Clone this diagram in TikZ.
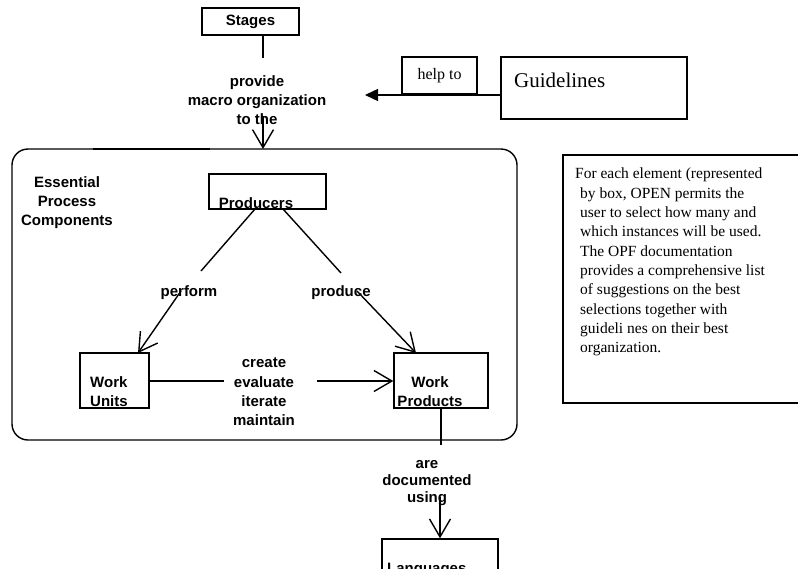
\documentclass[tikz,border=0pt]{standalone}
\usepackage{fontspec}
\setmainfont{Liberation Serif}
\setsansfont{Liberation Sans}
\usepackage{tikz}
\usetikzlibrary{arrows.meta}
\usepackage{tkz-euclide}

\tikzset{
    box/.style = {draw, line width=1.4pt, inner sep=0pt},
    lbl/.style = {font=\sffamily\bfseries\fontsize{15}{19.3}\selectfont, align=center, inner sep=0pt},
    serif/.style = {font=\rmfamily\fontsize{15.5}{19.3}\selectfont, align=left, inner sep=0pt},
    openarrow/.style = {line width=1.4pt, -{Straight Barb[length=18pt, width=21pt, line width=1.4pt]}},
    fillarrow/.style = {line width=1.4pt, -{Triangle[length=13pt, width=12pt]}},
}

\begin{document}
\begin{tikzpicture}[x=1pt, y=-1pt]
            \useasboundingbox (0,0) rectangle (798,568);
            \tkzDefPoints{263/58/S2, 263/116/M1, 263/149/M2, 501/95/G1, 365/95/G2,
                          255/209/P1, 201/271/P2, 283/209/Q1, 341/273/Q2,
                          181/291/P3, 138/353/P4, 357/291/Q3, 416/353/Q4,
                          224/381/C1, 317/381/C2, 441/445/D1, 440/497/D2}
            % boxes
            \node[box, minimum width=97, minimum height=27, lbl] (stages) at (250.5,21.5) {Stages};
            \node[box, minimum width=75, minimum height=37, serif, font=\rmfamily\fontsize{16}{19}\selectfont] (help) at (439.5,75.5) {help to};
            \node[box, minimum width=186, minimum height=62] (guide) at (594,88) {};
            \node[serif, font=\rmfamily\fontsize{21}{24}\selectfont, anchor=west] (guidetxt) at (514,80) {Guidelines};
            \draw[line width=1.4pt, rounded corners=16pt] (12,149) rectangle (517,440);
            \draw[line width=2.2pt] (93,149) -- (210,149);
            \node[box, minimum width=117, minimum height=35] (prodbox) at (267.5,191.5) {};
            \node[lbl] (prod) at (256,203) {Producers};
            \node[box, minimum width=69, minimum height=55] (units) at (114.5,380.5) {};
            \node[lbl, align=left, anchor=west] (unitstxt) at (90,391.5) {Work\\Units};
            \node[box, minimum width=94, minimum height=55] (products) at (441,380.5) {};
            \node[lbl] (productstxt) at (430,391.5) {Work\\Products};
            \node[box, minimum width=116, minimum height=61] (lang) at (440,569.5) {};
            \node[lbl, anchor=west] (langtxt) at (387,570) {Languages};
            \draw[line width=1.4pt] (563,155) rectangle (805,403);
            \node[serif, anchor=north west] (note) at (580,168) {\hspace*{-5pt}For each element (represented\\by box, OPEN permits the\\user to select how many and\\which instances will be used.\\The OPF documentation\\provides a comprehensive list\\of suggestions on the best\\selections together with\\guideli nes on their best\\organization.};
            % labels
            \node[lbl] (provide) at (257,100) {provide\\macro organization\\to the};
            \node[lbl] (ecp) at (67,202.5) {Essential\\Process\\Components};
            \node[lbl] (perform) at (189,293) {perform};
            \node[lbl] (produce) at (341,293) {produce};
            \node[lbl] (create) at (264,392) {create\\evaluate\\iterate\\maintain};
            \node[lbl, font=\sffamily\bfseries\fontsize{15}{17}\selectfont] (docu) at (427,483) {are\\documented\\using};
            % connectors
            \draw[line width=1.4pt] (stages.south -| S2) -- (S2);
            \draw[openarrow] (M1) -- (M2);
            \draw[fillarrow] (G1) -- (G2);
            \draw[line width=1.4pt] (P1) -- (P2) (Q1) -- (Q2);
            \draw[openarrow] (P3) -- (P4);
            \draw[openarrow] (Q3) -- (Q4);
            \draw[line width=1.4pt] (units.east |- C1) -- (C1);
            \draw[openarrow] (C2) -- (products.west |- C2);
            \draw[line width=1.4pt] (products.south -| D1) -- (D1);
            \draw[openarrow] (D2) -- (lang.north -| D2);
\end{tikzpicture}
\end{document}
